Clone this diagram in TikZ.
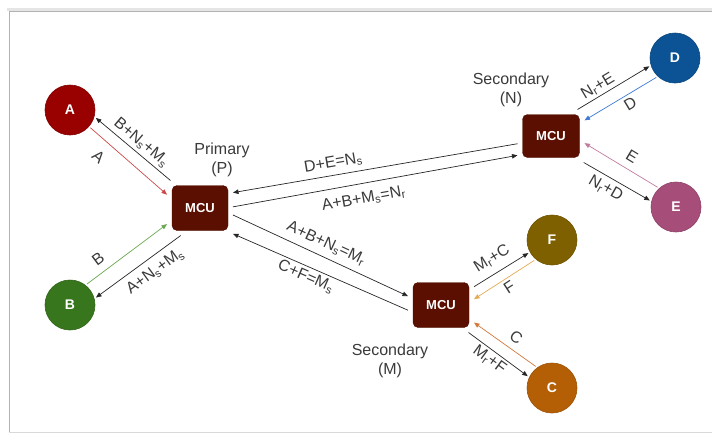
\documentclass[tikz,border=0pt]{standalone}
\usepackage{fontspec}
\setmainfont{Liberation Sans}
\usetikzlibrary{arrows.meta}

% palette
\definecolor{mcubrown}{HTML}{5B0F00}
\definecolor{devA}{HTML}{990000}
\definecolor{devB}{HTML}{38761D}
\definecolor{devC}{HTML}{B45F06}
\definecolor{devD}{HTML}{0B5394}
\definecolor{devE}{HTML}{A64D79}
\definecolor{devF}{HTML}{7F6000}
\definecolor{lnA}{HTML}{CC4848}
\definecolor{lnB}{HTML}{6AA84F}
\definecolor{lnC}{HTML}{D2783A}
\definecolor{lnD}{HTML}{3C78D8}
\definecolor{lnE}{HTML}{C27BA0}
\definecolor{lnF}{HTML}{E6AA55}
\definecolor{ink}{HTML}{262626}
\definecolor{txt}{HTML}{3A3A3A}

\begin{document}
\begin{tikzpicture}[x=1pt,y=-1pt,
  mcu/.style={rectangle, rounded corners=5pt, fill=mcubrown, draw=mcubrown!85!black,
    minimum width=56pt, minimum height=45pt, inner sep=0pt, outer sep=5pt,
    text=white, font=\fontsize{13}{13}\selectfont\bfseries},
  dev/.style={circle, fill=#1, draw=#1!85!black, line width=0.6pt,
    minimum size=50pt, inner sep=0pt, outer sep=2pt,
    text=white, font=\fontsize{14}{14}\selectfont\bfseries},
  link/.style={draw=#1, line width=0.7pt, -{Triangle[length=5.5pt,width=4.5pt]}},
  link/.default=ink,
  tag/.style={sloped, font=\fontsize{16}{18}\selectfont, text=txt, inner sep=1pt},
  lbl/.style={font=\fontsize{16}{19}\selectfont, text=txt, align=center, inner sep=0pt}]

\useasboundingbox (0,0) rectangle (712,434);

% page frame with a soft shadow along the top
\draw[black!10, line width=3pt] (7,9) -- (712,9);
\draw[black!30, line width=0.8pt] (9,433) -- (9,11.5) -- (712,11.5);
\draw[black!15, line width=0.8pt] (9,432) -- (712,432);

% controllers
\node[mcu] (P) at (200,208) {MCU};
\node[mcu, minimum width=57pt, minimum height=43pt] (N) at (551,136) {MCU};
\node[mcu] (M) at (441,305) {MCU};

\node[lbl] (Ptxt) at (222,160) {Primary\\(P)};
\node[lbl] (Ntxt) at (511,90) {Secondary\\(N)};
\node[lbl] (Mtxt) at (390,361) {Secondary\\(M)};

% end devices
\node[dev=devA] (A) at (70,110) {A};
\node[dev=devB] (B) at (70,305) {B};
\node[dev=devD] (D) at (675,58) {D};
\node[dev=devE] (E) at (676,207) {E};
\node[dev=devF] (F) at (552,240) {F};
\node[dev=devC] (C) at (552,388) {C};

% primary <-> A, B
\draw[link=lnA] (A.-41) -- (P.158) node[tag, pos=0.25, below=10pt] {A};
\draw[link] (P.137) -- (A.-17) node[tag, pos=0.48, above=2pt] {B+N\textsubscript{s}+M\textsubscript{s}};
\draw[link=lnB] (B.51) -- (P.206) node[tag, pos=0.24, above=6.5pt] {B};
\draw[link] (P.235) -- (B.16) node[tag, pos=0.4, below=6pt] {A+N\textsubscript{s}+M\textsubscript{s}};

% primary <-> secondary N
\draw[link] (N.193) -- (P.25) node[tag, pos=0.64, above=4pt] {D+E=N\textsubscript{s}};
\draw[link] (P.2) -- (N.210) node[tag, pos=0.45, below=7.5pt] {A+B+M\textsubscript{s}=N\textsubscript{r}};

% primary <-> secondary M
\draw[link] (P.-12) -- (M.165) node[tag, pos=0.5, above=5pt] {A+B+N\textsubscript{s}=M\textsubscript{r}};
\draw[link] (M.189) -- (P.-38) node[tag, pos=0.56, below=2pt] {C+F=M\textsubscript{s}};

% secondary N <-> D, E
\draw[link] (N.45) -- (D.198) node[tag, pos=0.35, above=1pt] {N\textsubscript{r}+E};
\draw[link=lnD] (D.226) -- (N.25) node[tag, pos=0.43, below=2.5pt] {D};
\draw[link=lnE] (E.133) -- (N.-12) node[tag, pos=0.44, above=6pt] {E};
\draw[link] (N.-39) -- (E.166) node[tag, pos=0.42, below=3.5pt] {N\textsubscript{r}+D};

% secondary M <-> F, C
\draw[link] (M.29) -- (F.209) node[tag, pos=0.47, above=6pt] {M\textsubscript{r}+C};
\draw[link=lnF] (F.229) -- (M.10) node[tag, pos=0.5, below=2.5pt] {F};
\draw[link] (M.-45) -- (C.154) node[tag, pos=0.45, below=1.5pt] {M\textsubscript{r}+F};
\draw[link=lnC] (C.127) -- (M.-28) node[tag, pos=0.43, above=5pt] {C};

\end{tikzpicture}
\end{document}
